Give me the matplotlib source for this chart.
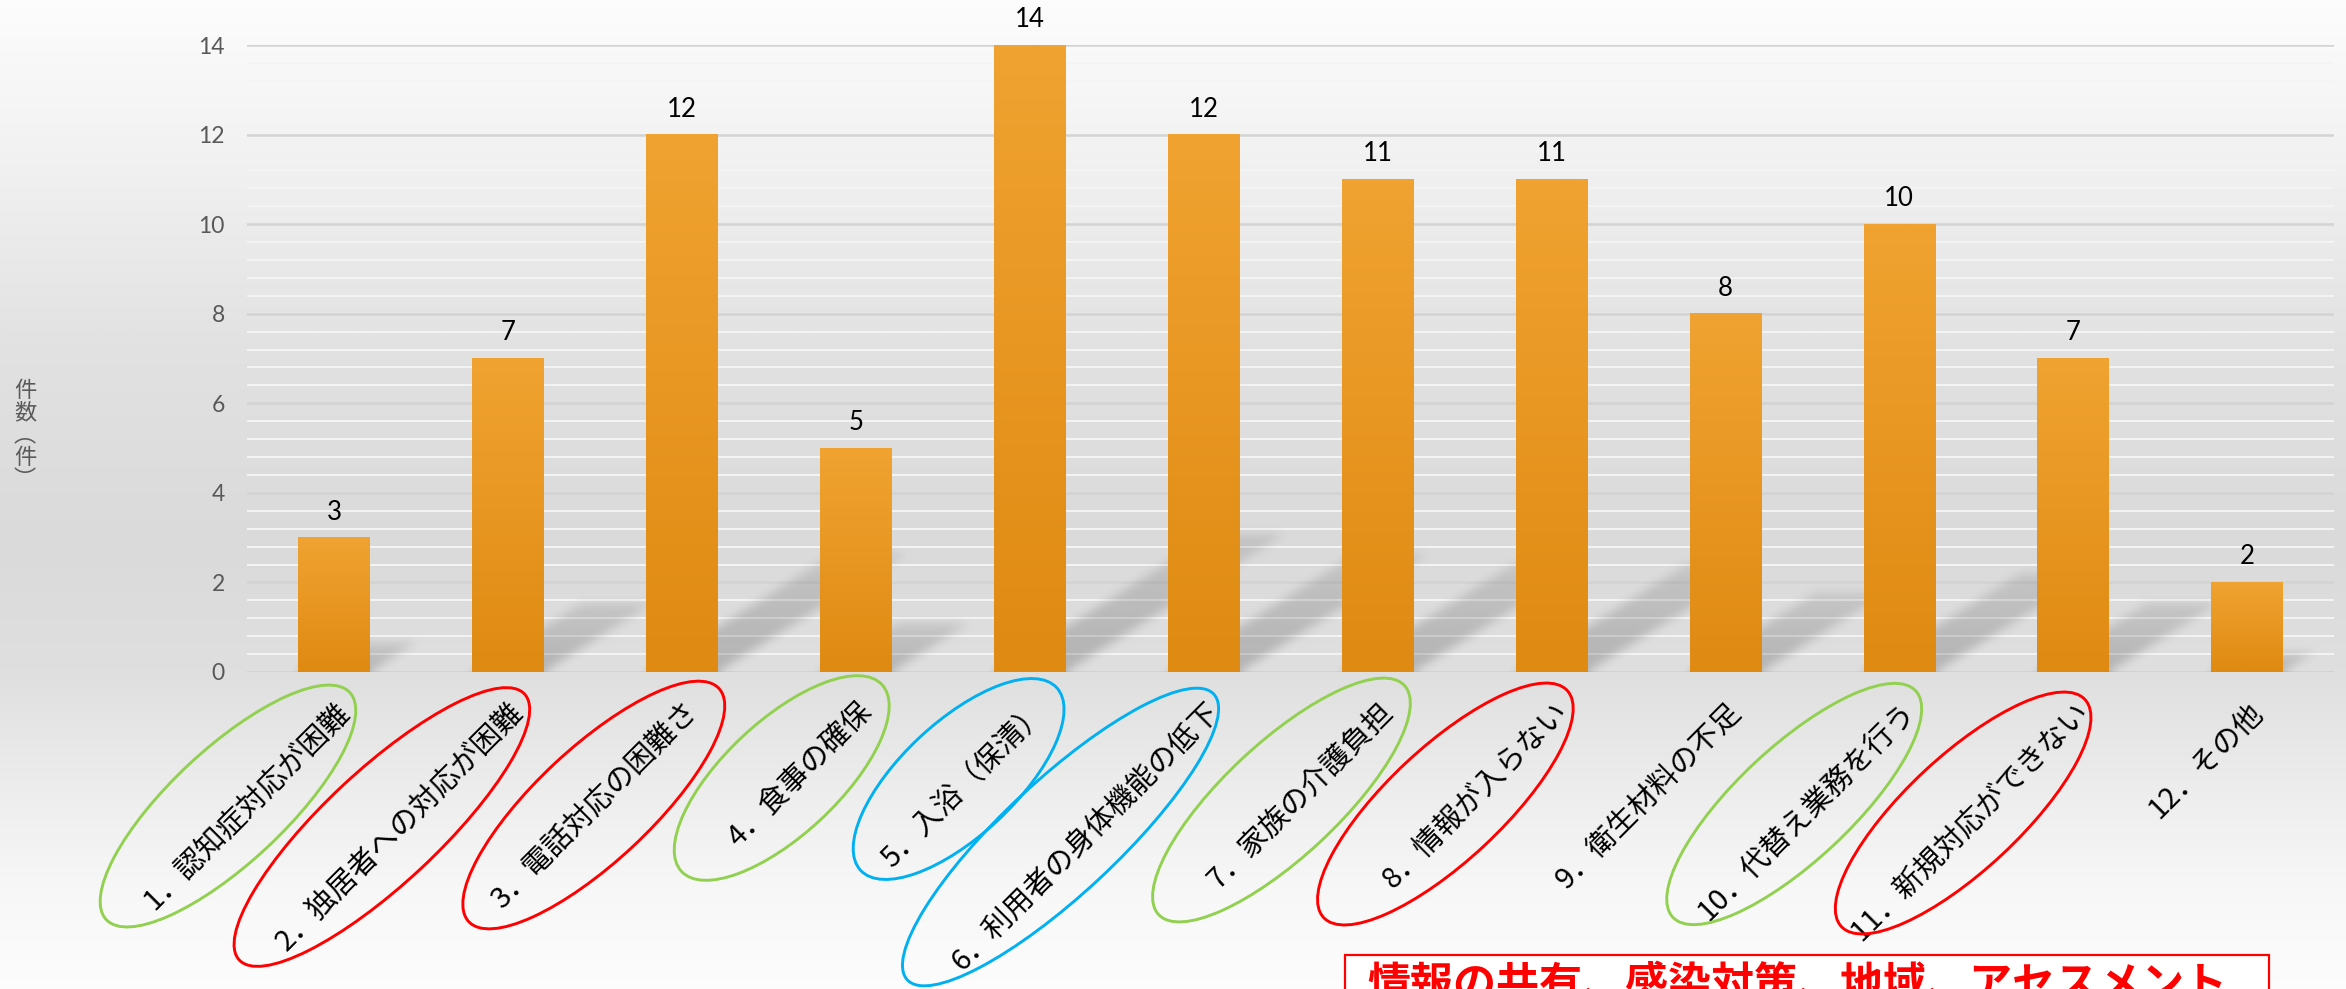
import numpy as np
import matplotlib
matplotlib.use("Agg")
import matplotlib.pyplot as plt
from matplotlib.patches import Ellipse, Rectangle
from matplotlib.transforms import ScaledTranslation

plt.rcParams['font.family'] = ['Noto Sans CJK JP', 'DejaVu Sans']

# --- data ---
categories = ["1．認知症対応が困難", "2．独居者への対応が困難", "3．電話対応の困難さ",
              "4．食事の確保", "5．入浴（保清）", "6．利用者の身体機能の低下",
              "7．家族の介護負担", "8．情報が入らない", "9．衛生材料の不足",
              "10．代替え業務を行う", "11．新規対応ができない", "12．その他"]
counts = [3, 7, 12, 5, 14, 12, 11, 11, 8, 10, 7, 2]
y_ticks = [0, 2, 4, 6, 8, 10, 12, 14]
y_label = "件\n数\n︵\n件\n︶"
note_text = "情報の共有、感染対策、地域、アセスメント"

# highlight rings drawn around some of the category names
ring_colors = ["#92D050", "#FF0000", "#FF0000", "#92D050", "#00B0F0", "#00B0F0",
               "#92D050", "#FF0000", None, "#92D050", "#FF0000", None]
# (dx, dy, length) in pixels, relative to the tick position on the baseline
ring_geom = [(-106, 134, 333), (-126, 155, 390), (-88, 133, 342), (-74, 106, 274),
             (-71, 107, 268), (-143, 165, 419), (-96, 128, 336), (-106, 132, 333),
             None, (-105, 132, 332), (-110, 141, 333), None]

W, H, DPI = 2346, 989, 100
fig = plt.figure(figsize=(W / DPI, H / DPI), dpi=DPI)

# soft grey background, light at top and bottom
bg = fig.add_axes([0, 0, 1, 1], zorder=-10)
stops_y = [0.0, 0.15, 0.35, 0.55, 0.68, 0.80, 0.90, 1.0]
stops_v = [0.99, 0.95, 0.885, 0.855, 0.875, 0.93, 0.97, 0.99]
col = np.interp(np.linspace(0, 1, H), stops_y, stops_v)
bg.imshow(np.repeat(col[:, None, None], 2, axis=1) * np.ones(3), aspect='auto',
          extent=[0, 1, 0, 1], interpolation='bilinear')
bg.set_xlim(0, 1)
bg.set_ylim(0, 1)
bg.axis('off')

ax = fig.add_axes([247 / W, 1 - 672 / H, (2334 - 247) / W, (672 - 45) / H])
ax.patch.set_alpha(0)
x = np.arange(len(counts))
bw = 0.41

bars = ax.bar(x, counts, width=bw, color="#E8951F", linewidth=0, zorder=2)
ax.set_xlim(-0.5, 11.5)
ax.set_ylim(0, 14)

# vertical gradient on each bar
top_c = np.array([0xF0, 0xA3, 0x31]) / 255
bot_c = np.array([0xDF, 0x8A, 0x12]) / 255
tt = np.linspace(0, 1, 64)[:, None, None]
grad = top_c * (1 - tt) + bot_c * tt
for b in bars:
    ax.imshow(grad, extent=(b.get_x(), b.get_x() + b.get_width(), 0, b.get_height()),
              aspect='auto', interpolation='bilinear', zorder=2.1)

# grid: grey lines every 2, faint white lines in between
ax.set_yticks(y_ticks)
ax.set_yticks([round(0.4 * k, 1) for k in range(36) if k % 5], minor=True)
ax.set_axisbelow(True)
ax.grid(which='major', axis='y', color='#d3d3d3', lw=1.8)
ax.grid(which='minor', axis='y', color='#f4f4f4', lw=1.4)
for s in ax.spines.values():
    s.set_visible(False)
ax.axhline(0, color='#d3d3d3', lw=2.2, zorder=0.6)

ax.set_xlim(-0.5, 11.5)
ax.set_ylim(0, 14)

# blurred floor shadows falling up and to the right of every bar
bb = ax.get_window_extent()
x0p, y0p = int(bb.x0), int(bb.y0)
nx, ny = int(bb.width), int(bb.height)
X, Y = np.meshgrid(x0p + np.arange(nx) + 0.5, y0p + np.arange(ny) + 0.5)
alpha = np.zeros((ny, nx))
for i, v in enumerate(counts):
    xl, yb = ax.transData.transform((i - bw / 2, 0))
    xr, yt = ax.transData.transform((i + bw / 2, v))
    h = yt - yb
    rise, run = 0.22 * h, 0.35 * h
    t = (Y - yb) / rise
    inside = (t >= 0) & (t <= 1) & (X >= xl + t * run) & (X <= xr + t * run)
    alpha = np.maximum(alpha, np.where(inside, 0.24 * (1 - 0.5 * t), 0))


def box_blur(a, r):
    for axis in (0, 1):
        pad = [(0, 0), (0, 0)]
        pad[axis] = (r + 1, r)
        c = np.cumsum(np.pad(a, pad, mode='edge'), axis=axis)
        if axis == 0:
            a = (c[2 * r + 1:] - c[:-2 * r - 1]) / (2 * r + 1)
        else:
            a = (c[:, 2 * r + 1:] - c[:, :-2 * r - 1]) / (2 * r + 1)
    return a


alpha = box_blur(box_blur(alpha, 5), 5)
shadow = np.zeros((ny, nx, 4))
shadow[..., :3] = 0.15
shadow[..., 3] = alpha
ax.imshow(shadow, origin='lower', extent=(0, 1, 0, 1), transform=ax.transAxes,
          aspect='auto', interpolation='bilinear', zorder=1)
ax.set_xlim(-0.5, 11.5)
ax.set_ylim(0, 14)

# value labels
for i, v in enumerate(counts):
    ax.annotate(str(v), xy=(i, v), xytext=(0, 13), textcoords='offset points',
                ha='center', va='baseline', fontsize=18.5, family='Lato', color='black')

ax.tick_params(axis='y', which='both', length=0, pad=16, labelsize=16.5,
               labelcolor='#595959')
for lab in ax.get_yticklabels():
    lab.set_family('Lato')

ax.set_xticks(x)
ax.set_xticklabels(categories, rotation=45, ha='right', va='center',
                   rotation_mode='anchor', fontsize=21, color='black')
ax.tick_params(axis='x', length=0, pad=26)
shift = ScaledTranslation(12 / DPI, 0, fig.dpi_scale_trans)
for lab in ax.get_xticklabels():
    lab.set_transform(lab.get_transform() + shift)

fig.text(25 / W, 1 - 435 / H, y_label, ha='center', va='center', fontsize=16,
         color='#595959', linespacing=0.95)

# rings around the category names
for i, c in enumerate(ring_colors):
    if c is None:
        continue
    dx, dy, length = ring_geom[i]
    tx, ty = ax.transData.transform((i, 0))
    e = Ellipse(((tx + dx) / DPI, (ty - dy) / DPI), width=length / DPI, height=114 / DPI,
                angle=43, transform=fig.dpi_scale_trans, fill=False, edgecolor=c, lw=2.1)
    fig.add_artist(e)

# boxed note at the bottom right
fig.add_artist(Rectangle((1345 / W, -0.1), (2269 - 1345) / W, 0.1 + 1 - 955 / H,
                         transform=fig.transFigure, facecolor='white',
                         edgecolor='#FF0000', lw=1.6))
fig.text(1367 / W, 1 - 963 / H, note_text, ha='left', va='top', fontsize=31,
         fontweight='bold', color='#FF0000')

fig.savefig("out.png", dpi=DPI)
